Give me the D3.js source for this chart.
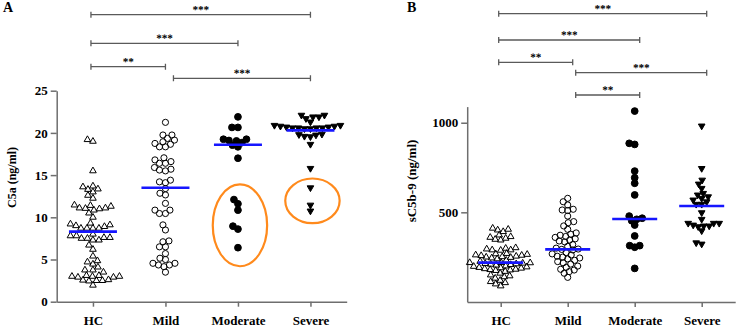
<!DOCTYPE html>
<html lang="en">
<head>
<meta charset="utf-8">
<title>C5a and sC5b-9 by disease severity</title>
<script src="https://d3js.org/d3.v7.min.js"></script>
<style>
body { margin: 0; background: #fff; }
svg text { font-family: "Liberation Serif", "DejaVu Serif", serif; font-weight: bold; fill: #000; }
.axis path, .axis line { stroke: #6e6e6e; stroke-width: 1.5; }
.bracket { stroke: #5a5a5a; stroke-width: 1.3; fill: none; }
.median { stroke: #1616ff; stroke-width: 2.6; }
.ring { fill: none; stroke: #ff8a1c; stroke-width: 2.2; }
.stars { text-rendering: geometricPrecision; }
</style>
</head>
<body>
<script>
var groups = ["HC", "Mild", "Moderate", "Severe"];

// panel A: C5a (ng/ml)
var c5aHC = [19.2, 19.0, 15.5, 13.6, 13.3, 13.7, 13.0, 13.35, 12.6, 12.25,
  11.05, 11.45, 11.0, 11.3, 11.1, 11.4, 10.85, 11.1, 10.0, 10.5,
  9.2, 9.0, 8.7, 8.7, 8.7, 8.7, 8.9, 9.1, 9.3,
  7.8, 7.6, 7.3, 7.5, 7.3, 7.5, 7.6, 7.8, 8.0, 6.7, 6.2, 5.4,
  4.85, 4.45, 4.7, 3.5, 3.75, 4.1, 3.75,
  3.0, 3.0, 3.1, 3.0, 3.1, 2.9, 2.9, 2.55, 2.5, 2.45, 2.5, 2.6, 1.95];
var c5aMild = [21.25, 18.95, 19.75, 19.35, 19.75, 19.15, 18.65, 18.35, 18.35, 18.75,
  16.4, 16.6, 16.8, 17.05, 16.4, 15.7, 15.5, 15.6, 15.9, 14.2, 14.1, 14.4,
  12.85, 12.65, 13.4, 11.65, 10.85, 10.45, 10.45, 10.85, 9.1, 8.5,
  7.1, 6.5, 6.5, 7.2, 5.15, 5.0, 5.7, 4.55, 4.35, 3.5, 4.15, 4.35, 4.55];
var c5aModerate = [21.9, 20.65, 20.65, 19.25, 19.05, 18.55, 18.35, 18.85, 19.1, 19.25,
  17.0, 12.1, 11.6, 10.85, 8.95, 8.6, 6.4];
var c5aSevere = [22.1, 21.9, 21.7, 21.3, 21.9, 22.1, 20.9, 20.8, 20.7, 20.6, 20.6, 20.5,
  20.6, 20.5, 20.6, 20.7, 20.8, 20.9, 19.55, 19.75, 19.85, 19.6, 19.8, 18.65,
  15.8, 13.5, 11.45, 10.75];
var c5aMedians = [8.3, 13.5, 18.6, 20.3];
var c5aTicks = [0, 5, 10, 15, 20, 25];
var c5aBrackets = [["HC", "Severe", "***"], ["HC", "Moderate", "***"], ["HC", "Mild", "**"], ["Mild", "Severe", "***"]];
// circled outliers: group, low and high edge of ring
var ringGroups = ["Moderate", "Severe"];
var ringLow = [4.2, 9.3];
var ringHigh = [13.9, 14.6];

// panel B: sC5b-9 (ng/ml)
var sc5bHC = [411, 405, 401, 392, 345, 360, 355, 364, 373, 349, 290, 299, 290, 295, 302, 288,
  270, 265, 260, 258, 255, 250, 262, 268, 245, 248, 252, 232, 226, 219, 219, 218, 216, 214, 212,
  210, 205, 200, 198, 195, 192, 190, 188, 185, 182, 180, 178, 175, 170, 160, 150, 145,
  132, 107, 89, 100, 113, 120, 140, 240, 208];
var sc5bMild = [578, 559, 541, 517, 513, 510, 479, 448, 442, 424, 405,
  385, 378, 372, 365, 360, 352, 345, 340, 335, 320, 310, 300, 295, 293, 290,
  275, 268, 262, 255, 250, 245, 240, 232, 225, 218, 211, 200, 193, 182, 178, 169, 160, 137];
var sc5bModerate = [1065, 879, 885, 730, 693, 662, 597, 467, 453, 479, 429, 461, 368, 314, 305, 314, 187];
var sc5bSevere = [982, 745, 658, 634, 680, 597, 587, 606, 578, 545, 559, 569, 545, 498,
  461, 439, 424, 420, 439, 397, 424, 429, 439, 323, 330];
var sc5bMedians = [219, 293, 463, 535];
var sc5bTicks = [500, 1000];
var sc5bBrackets = [["HC", "Severe", "***"], ["HC", "Moderate", "***"], ["HC", "Mild", "**"], ["Mild", "Severe", "***"], ["Mild", "Moderate", "**"]];

var svg = d3.select("body").append("svg")
    .attr("width", 738)
    .attr("height", 327);

// simple beeswarm: each point goes to the nearest free offset from the centre
function swarm(vals, y, minDist) {
    var placed = [];
    var out = [];
    var order = vals.map(function(v, i) { return i; })
        .sort(function(a, b) { return vals[a] - vals[b]; });
    order.forEach(function(i) {
        var py = y(vals[i]);
        for (var k = 0; k < 400; k++) {
            var cand = (k % 2 === 0 ? 1 : -1) * Math.ceil(k / 2) * 0.5;
            var hit = placed.some(function(p) {
                var dx = p.dx - cand, dy = p.py - py;
                return dx * dx + dy * dy < minDist * minDist;
            });
            if (!hit) break;
        }
        placed.push({dx: cand, py: py});
        out.push({v: vals[i], dx: cand, py: py});
    });
    return out;
}

var markers = [
    {shape: d3.symbolTriangle, fill: "none", rot: 0, size: 19},
    {shape: d3.symbolCircle, fill: "none", rot: 0, size: 30},
    {shape: d3.symbolCircle, fill: "#000", rot: 0, size: 36},
    {shape: d3.symbolTriangle, fill: "#000", rot: 180, size: 19}
];

function panel(opt) {
    var g = svg.append("g");

    var x = d3.scalePoint().domain(groups).range(opt.xRange).padding(0.5);
    var y = d3.scaleLinear().domain(opt.yDomain).range(opt.yRange);

    g.append("g")
        .attr("class", "axis")
        .attr("transform", "translate(0," + opt.yRange[0] + ")")
        .call(d3.axisBottom(x).tickSize(5).tickSizeOuter(0).tickPadding(9))
        .selectAll("text").style("font-size", "13px");

    g.append("g")
        .attr("class", "axis")
        .attr("transform", "translate(" + opt.yAxisX + ",0)")
        .call(d3.axisLeft(y).tickValues(opt.ticks).tickFormat(d3.format("d"))
            .tickSize(6).tickSizeOuter(0).tickPadding(3))
        .selectAll("text").style("font-size", "13px");

    g.selectAll(".domain").attr("stroke", "#6e6e6e");

    g.append("text")
        .attr("transform", "translate(" + opt.titleX + "," + opt.titleY + ") rotate(-90)")
        .attr("text-anchor", "middle")
        .style("font-size", opt.titleSize)
        .text(opt.title);

    g.append("text")
        .attr("x", opt.letterX)
        .attr("y", 12)
        .style("font-size", "14px")
        .text(opt.letter);

    // rings round outliers
    if (opt.rings) {
        opt.rings.groups.forEach(function(name, i) {
            var lo = y(opt.rings.low[i]), hi = y(opt.rings.high[i]);
            g.append("ellipse")
                .attr("class", "ring")
                .attr("cx", x(name) + 2)
                .attr("cy", (lo + hi) / 2)
                .attr("rx", x.step() * 0.375)
                .attr("ry", (lo - hi) / 2);
        });
    }

    opt.series.forEach(function(vals, gi) {
        var m = markers[gi];
        var sym = d3.symbol().type(m.shape).size(m.size);
        g.selectAll(".pt" + gi)
            .data(swarm(vals, y, opt.minDist))
            .enter()
            .append("path")
            .attr("d", sym)
            .attr("transform", function(d) {
                return "translate(" + (x(groups[gi]) + d.dx) + "," + d.py + ") rotate(" + m.rot + ")";
            })
            .attr("fill", m.fill)
            .attr("stroke", "#000")
            .attr("stroke-width", 1);
    });

    g.selectAll(".median")
        .data(opt.medians)
        .enter()
        .append("line")
        .attr("class", "median")
        .attr("x1", function(d, i) { return x(groups[i]) - opt.medHalf; })
        .attr("x2", function(d, i) { return x(groups[i]) + opt.medHalf; })
        .attr("y1", function(d) { return y(d); })
        .attr("y2", function(d) { return y(d); });

    // significance brackets
    opt.brackets.forEach(function(b, i) {
        var yy = opt.levels[i];
        var x1 = x(b[0]) + (b[0] === "HC" ? -2 : 8);
        var x2 = x(b[1]) + opt.endNudge;
        g.append("path")
            .attr("class", "bracket")
            .attr("d", "M" + x1 + "," + (yy - 3) + "V" + (yy + 3) + "M" + x1 + "," + yy +
                "H" + x2 + "M" + x2 + "," + (yy - 3) + "V" + (yy + 3));
        g.append("text")
            .attr("class", "stars")
            .attr("transform", "translate(" + ((x1 + x2) / 2) + "," + (yy - 1.5) + ") rotate(0.5)")
            .attr("text-anchor", "middle")
            .style("font-size", "11px")
            .text(b[2]);
    });
}

panel({
    letter: "A", letterX: 3,
    title: "C5a (ng/ml)", titleX: 16, titleY: 177.5, titleSize: "12px",
    xRange: [56.7, 346.7], yAxisX: 56.7,
    yDomain: [0, 25], yRange: [301.7, 90.7], ticks: c5aTicks,
    series: [c5aHC, c5aMild, c5aModerate, c5aSevere],
    medians: c5aMedians, medHalf: 24, minDist: 5.6,
    rings: {groups: ringGroups, low: ringLow, high: ringHigh},
    brackets: c5aBrackets, levels: [14.7, 43.3, 66.7, 78.3], endNudge: 0
});

panel({
    letter: "B", letterX: 407,
    title: "sC5b-9 (ng/ml)", titleX: 416, titleY: 181, titleSize: "13px",
    xRange: [467.2, 735.2], yAxisX: 467.2,
    yDomain: [0, 1090], yRange: [301.9, 106.6], ticks: sc5bTicks,
    series: [sc5bHC, sc5bMild, sc5bModerate, sc5bSevere],
    medians: sc5bMedians, medHalf: 22.5, minDist: 5.2,
    brackets: sc5bBrackets, levels: [13.7, 40, 62.3, 72.7, 95], endNudge: 5
});
</script>
</body>
</html>
